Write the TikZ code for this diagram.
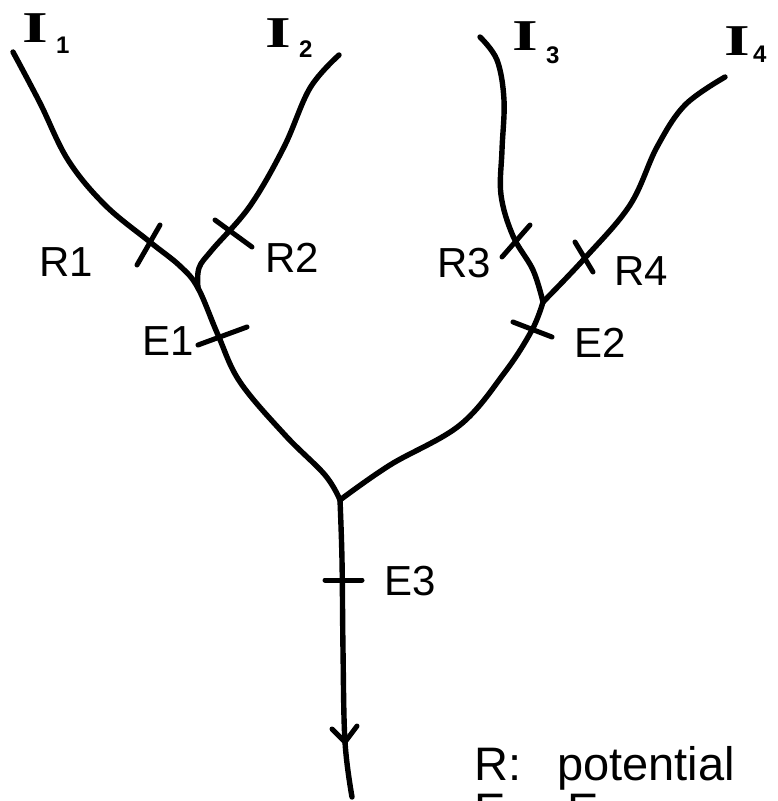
\documentclass[tikz,border=0pt]{standalone}
\usepackage{fontspec}
\setmainfont{Liberation Sans}
\newfontfamily\serifI{Liberation Serif}
\begin{document}
\begin{tikzpicture}[x=1pt,y=-1pt,
  wire/.style={line width=5.4pt,line cap=round,line join=round},
  tick/.style={line width=5pt,line cap=round},
  lbl/.style={font=\fontsize{42}{42}\selectfont,inner sep=0pt,anchor=base west},
  inlbl/.style={font=\serifI\bfseries\fontsize{44}{44}\selectfont,inner sep=0pt,anchor=base west},
  sub/.style={font=\bfseries\fontsize{24}{24}\selectfont,inner sep=0pt,anchor=base west},
  legend/.style={font=\fontsize{47}{47}\selectfont,inner sep=0pt,anchor=base west}]
\useasboundingbox (0,0) rectangle (777,801);
\clip (0,0) rectangle (777,801);
% end points and junctions
\coordinate (in1) at (13,52);
\coordinate (in2) at (339,55);
\coordinate (in3) at (480,37);
\coordinate (in4) at (725,77);
\coordinate (j1) at (198,288);
\coordinate (j2) at (543,302);
\coordinate (j3) at (340,500);
\coordinate (out) at (352,797);
% branches
\draw[wire] plot[smooth,tension=0.6] coordinates {(in1) (40,103) (68,160) (105,205) (150,242) (180,266) (j1) (218,335) (240,382) (285,435) (325,475) (j3)};
\draw[wire] plot[smooth,tension=0.6] coordinates {(in2) (310,88) (284,147) (250,206) (212,250) (199,268) (j1)};
\draw[wire] plot[smooth,tension=0.6] coordinates {(in3) (497,60) (504,100) (502,150) (501,195) (513,236) (533,270) (j2)};
\draw[wire] plot[smooth,tension=0.6] coordinates {(in4) (685,105) (657,147) (630,205) (585,258) (j2)};
\draw[wire] plot[smooth,tension=0.6] coordinates {(j2) (532,330) (505,372) (460,425) (390,465) (j3)};
\draw[wire] plot[smooth,tension=0.6] coordinates {(j3) (342,560) (343,650) (345,742) (out)};
% arrowhead on the stem
\coordinate (ah) at (345,742);
\coordinate (ahl) at (332,729);
\coordinate (ahr) at (357,726);
\draw[tick] (ahl) -- (ah) -- (ahr);
% ticks
\coordinate (r1a) at (160,225); \coordinate (r1b) at (137,265);
\coordinate (r2a) at (215,220); \coordinate (r2b) at (252,247);
\coordinate (e1a) at (198,345); \coordinate (e1b) at (247,327);
\coordinate (r3a) at (530,225); \coordinate (r3b) at (502,257);
\coordinate (r4a) at (575,242); \coordinate (r4b) at (593,272);
\coordinate (e2a) at (513,322); \coordinate (e2b) at (552,337);
\coordinate (e3a) at (325,580); \coordinate (e3b) at (362,580);
\draw[tick] (r1a) -- (r1b);
\draw[tick] (r2a) -- (r2b);
\draw[tick] (e1a) -- (e1b);
\draw[tick] (r3a) -- (r3b);
\draw[tick] (r4a) -- (r4b);
\draw[tick] (e2a) -- (e2b);
\draw[tick] (e3a) -- (e3b);
% tick labels
\node[lbl] (R1) at (39,276) {R1};
\node[lbl] (R2) at (265,272) {R2};
\node[lbl] (E1) at (142,355) {E1};
\node[lbl] (R3) at (437,277) {R3};
\node[lbl] (R4) at (614,285) {R4};
\node[lbl] (E2) at (574,357) {E2};
\node[lbl] (E3) at (384,595) {E3};
% input labels
\node[inlbl] (I1) at (22,42) {\scalebox{1.5}[1]{I}};
\node[sub] (s1) at (56,53) {1};
\node[inlbl] (I2) at (265,47) {\scalebox{1.5}[1]{I}};
\node[sub] (s2) at (299,57) {2};
\node[inlbl] (I3) at (512,50) {\scalebox{1.5}[1]{I}};
\node[sub] (s3) at (546,63) {3};
\node[inlbl] (I4) at (724,55) {\scalebox{1.5}[1]{I}};
\node[sub] (s4) at (753,62) {4};
% legend
\node[legend] (leg1) at (474,780) {R:\hspace{36pt}potential};
\node[legend] (leg2) at (474,826) {E:\hspace{49pt}E};
\end{tikzpicture}
\end{document}
